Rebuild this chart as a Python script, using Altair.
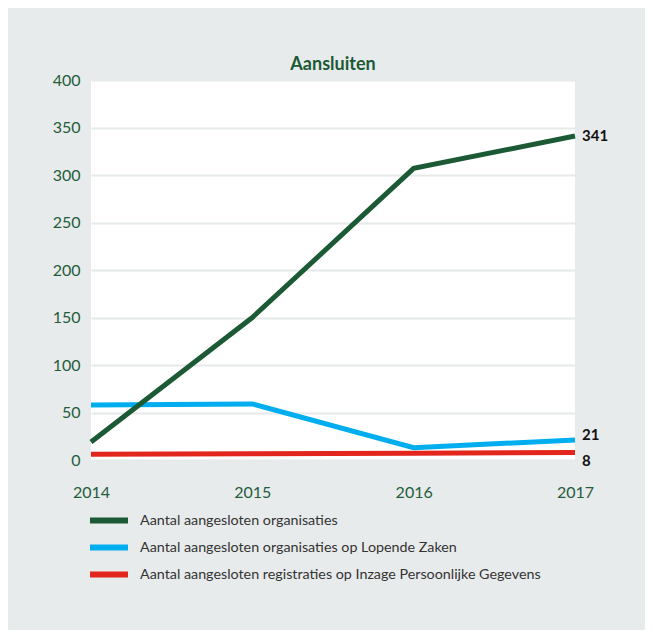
import altair as alt
import pandas as pd

years = [2014, 2015, 2016, 2017]
organisaties = [19, 150, 307, 341]
lopende_zaken = [58, 59, 13, 21]
inzage = [6, 6.5, 7, 8]

series_names = [
    "Aantal aangesloten organisaties",
    "Aantal aangesloten organisaties op Lopende Zaken",
    "Aantal aangesloten registraties op Inzage Persoonlijke Gegevens",
]
series_colors = ["#1b5a35", "#00aeef", "#e2261d"]
y_ticks = [0, 50, 100, 150, 200, 250, 300, 350, 400]

# draw order: blue, red, then green on top
rows = []
for name, vals in [(series_names[1], lopende_zaken), (series_names[2], inzage), (series_names[0], organisaties)]:
    for yr, v in zip(years, vals):
        rows.append({"jaar": yr, "waarde": v, "reeks": name})
df = pd.DataFrame(rows)

FONT = "Lato"
GREEN_TXT = "#245c3b"

x_enc = alt.X("jaar:Q", scale=alt.Scale(domain=[2014, 2017], nice=False, zero=False),
              axis=alt.Axis(values=years, format="d", title=None, grid=False, domain=False,
                            ticks=False, labelPadding=24, labelFontSize=16, labelColor=GREEN_TXT,
                            labelFont=FONT, labelFlush=False))
y_enc = alt.Y("waarde:Q", scale=alt.Scale(domain=[0, 400], nice=False),
              axis=alt.Axis(values=y_ticks, title=None, grid=True, gridColor="#e6eaea", gridWidth=2,
                            domain=False, ticks=False, labelPadding=11, labelFontSize=16,
                            labelColor=GREEN_TXT, labelFont=FONT))

color_enc = alt.Color("reeks:N", scale=alt.Scale(domain=series_names, range=series_colors),
                      legend=alt.Legend(title=None, orient="none", legendX=5.5, legendY=428,
                                        symbolType="M-2,0H2", symbolStrokeWidth=6, symbolSize=361,
                                        symbolFillColor="transparent",
                                        labelFontSize=14.3, labelColor="#333333", labelFont=FONT,
                                        labelOffset=18.5, rowPadding=2, labelLimit=600,
                                        direction="vertical"))

lines = alt.Chart(df).mark_line(strokeWidth=5).encode(
    x=x_enc, y=y_enc, color=color_enc
)

def end_label(name, dy):
    return alt.Chart(df).transform_filter(
        (alt.datum.reeks == name) & (alt.datum.jaar == 2017)
    ).mark_text(align="left", baseline="middle", dx=7, dy=dy, fontWeight="bold",
                fontSize=15, font=FONT, color="#111111").encode(
        x="jaar:Q", y="waarde:Q", text=alt.Text("waarde:Q", format="d")
    )

chart = alt.layer(
    lines,
    end_label(series_names[0], 0),
    end_label(series_names[1], -5),
    end_label(series_names[2], 9),
).properties(
    width=484, height=380,
    title=alt.TitleParams("Aansluiten", font=FONT, fontSize=18, fontWeight="bold",
                          color="#1b5a35", anchor="middle", offset=4, dy=6),
    autosize=alt.AutoSizeParams(type="none"),
    padding={"left": 83, "top": 72, "right": 70, "bottom": 170},
    background="#e8ebeb",
).configure_view(
    fill="white", stroke=None
)

chart.save("out.html", embed_options={"renderer": "svg", "actions": False})
